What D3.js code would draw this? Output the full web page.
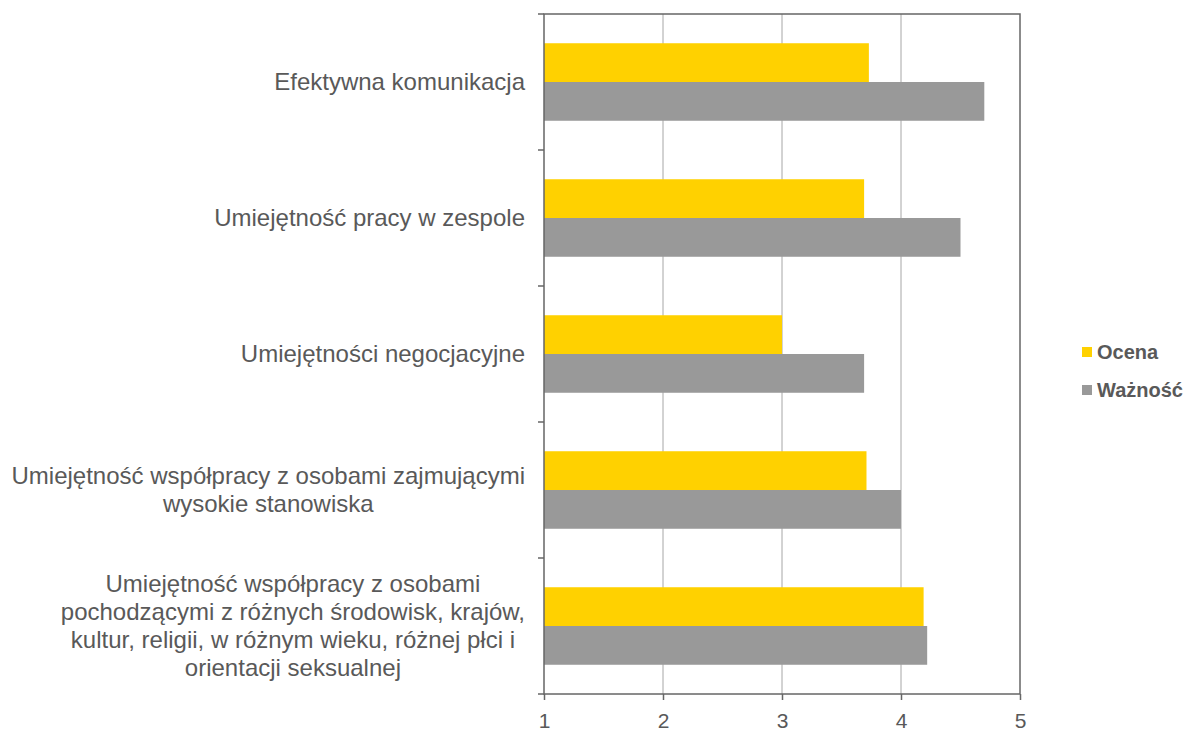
<!DOCTYPE html>
<html>
<head>
<meta charset="utf-8">
<script src="https://cdn.jsdelivr.net/npm/d3@7"></script>
<style>
  body { margin: 0; background: #fff; }
  text { font-family: "Liberation Sans", Arial, sans-serif; fill: #595959; }
</style>
</head>
<body>
<div id="chart"></div>
<script>
// categories (each label split into its lines)
const categories = [
    ['Efektywna komunikacja'],
    ['Umiejętność pracy w zespole'],
    ['Umiejętności negocjacyjne'],
    ['Umiejętność współpracy z osobami zajmującymi', 'wysokie stanowiska'],
    ['Umiejętność współpracy z osobami', 'pochodzącymi z różnych środowisk, krajów,',
     'kultur, religii, w różnym wieku, różnej płci i', 'orientacji seksualnej']
];
const series = ['Ocena', 'Ważność'];
const ocena   = [3.73, 3.69, 3.00, 3.71, 4.19];
const waznosc = [4.70, 4.50, 3.69, 4.00, 4.22];
const xTicks  = [1, 2, 3, 4, 5];
const colours = ['#ffd100', '#999999'];

const [width, height] = [1192, 733];
const margin = { top: 14, right: 172, bottom: 39, left: 544 };
const iw = width - margin.left - margin.right;
const ih = height - margin.top - margin.bottom;

const svg = d3.select('#chart')
    .append('svg')
    .attr('width', width)
    .attr('height', height);

const g = svg.append('g')
    .attr('transform', `translate(${margin.left},${margin.top})`);

const x = d3.scaleLinear().domain([1, 5]).range([0, iw]);
const y = d3.scaleBand()
    .domain(d3.range(categories.length))
    .range([0, ih])
    .paddingInner(0.43)
    .paddingOuter(0.215);
const ySub = d3.scaleBand()
    .domain(series)
    .range([0, y.bandwidth()]);

// gridlines
g.selectAll('line.grid')
    .data(xTicks.slice(1, -1))
    .join('line')
    .attr('class', 'grid')
    .attr('x1', (d) => x(d))
    .attr('x2', (d) => x(d))
    .attr('y1', 0)
    .attr('y2', ih)
    .attr('stroke', '#a6a6a6')
    .attr('stroke-width', 1);

// bars
const rows = categories.map((c, i) => ({ i, vals: [ocena[i], waznosc[i]] }));
const grp = g.selectAll('g.row')
    .data(rows)
    .join('g')
    .attr('class', 'row')
    .attr('transform', (d) => `translate(0,${y(d.i)})`);

grp.selectAll('rect')
    .data((d) => d.vals.map((v, k) => ({ v, k })))
    .join('rect')
    .attr('x', x(1))
    .attr('y', (d) => ySub(series[d.k]))
    .attr('width', (d) => x(d.v) - x(1))
    .attr('height', ySub.bandwidth())
    .attr('fill', (d) => colours[d.k]);

// frame
g.append('rect')
    .attr('x', 0).attr('y', 0)
    .attr('width', iw).attr('height', ih)
    .attr('fill', 'none')
    .attr('stroke', '#666')
    .attr('stroke-width', 1.5);

// category tick marks
const step = ih / categories.length;
g.selectAll('line.ctick')
    .data(d3.range(categories.length + 1))
    .join('line')
    .attr('class', 'ctick')
    .attr('x1', -6).attr('x2', 0)
    .attr('y1', (d) => d * step)
    .attr('y2', (d) => d * step)
    .attr('stroke', '#666')
    .attr('stroke-width', 1.5);

// x axis
const xAxis = d3.axisBottom(x)
    .tickValues(xTicks)
    .tickSize(6)
    .tickFormat(d3.format('d'));
const ax = g.append('g')
    .attr('transform', `translate(0,${ih})`)
    .call(xAxis);
ax.select('.domain').remove();
ax.selectAll('line').attr('stroke', '#666').attr('stroke-width', 1.5);
ax.selectAll('text')
    .attr('y', 19)
    .attr('dy', '0.71em')
    .style('font-size', '21px');

// category labels, centred lines, block right aligned
const lineH = 28;
categories.forEach((lines, i) => {
    const cy = y(i) + y.bandwidth() / 2;
    const t = g.append('text')
        .attr('text-anchor', 'middle')
        .style('font-size', '24px');
    const spans = lines.map((ln, j) => t.append('tspan')
        .attr('x', 0)
        .attr('y', cy + (j - (lines.length - 1) / 2) * lineH)
        .attr('dy', '0.35em')
        .text(ln));
    // widest line ends at -19
    const w = d3.max(spans, (s) => s.node().getComputedTextLength());
    spans.forEach((s) => s.attr('x', -19 - w / 2));
});

// legend
const lg = svg.append('g')
    .attr('transform', 'translate(1082,352)');
series.forEach((s, k) => {
    lg.append('rect')
        .attr('x', 0)
        .attr('y', k * 38 - 5)
        .attr('width', 10)
        .attr('height', 10)
        .attr('fill', colours[k]);
    lg.append('text')
        .attr('x', 15)
        .attr('y', k * 38)
        .attr('dy', '0.35em')
        .style('font-size', '20px')
        .style('font-weight', 'bold')
        .text(s);
});
</script>
</body>
</html>
